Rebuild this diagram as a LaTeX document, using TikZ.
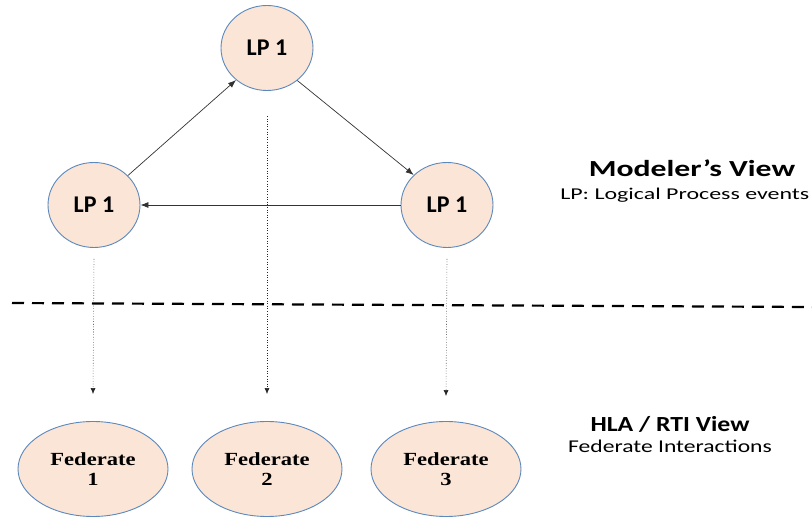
\documentclass[tikz,border=0pt]{standalone}
\usepackage{fontspec}
\setmainfont{Carlito}
\newfontfamily\fedfont{Liberation Serif}[FakeStretch=1.22]
\usetikzlibrary{shapes.geometric,arrows.meta,calc}
\definecolor{peach}{HTML}{FBE5D6}
\definecolor{rim}{HTML}{5B88BD}
\begin{document}
\begin{tikzpicture}[x=1pt,y=-1pt,
  lpnode/.style={ellipse,draw=rim,fill=peach,line width=0.9pt,inner sep=0pt,
    minimum width=92pt,minimum height=85pt,font=\fontsize{24}{27}\selectfont\bfseries},
  fednode/.style={ellipse,draw=rim,fill=peach,line width=0.9pt,inner sep=0pt,
    minimum width=150pt,minimum height=95pt,align=center,
    font=\fedfont\fontsize{18.5}{19.5}\selectfont\bfseries},
  flow/.style={draw=black!80,line width=0.7pt,-{Latex[length=8pt,width=6pt]}},
  map/.style={draw=black!85,line width=0.6pt,dotted,-{Latex[length=6pt,width=5pt]}},
  wide/.style={inner sep=0pt,transform shape,xscale=#1}]
\useasboundingbox (0,0) rectangle (812,518);

% logical processes (modeler's view)
\node[lpnode] (t) at (267,48) {LP 1};
\node[lpnode] (l) at (94,205) {LP 1};
\node[lpnode] (r) at (447,205) {LP 1};

% federates (HLA / RTI view)
\node[fednode] (f1) at (93,469) {Federate\\1};
\node[fednode] (f2) at (267,469) {Federate\\2};
\node[fednode] (f3) at (446,469) {Federate\\3};

% event flow between logical processes
\draw[flow] (l.41) -- (t.226);
\draw[flow] (t.313) -- (r.138);
\draw[flow] (r.west) -- (l.east);

% mapping of processes onto federates
\draw[map] ($(l.south)+(0,11)$) -- ($(f1.north)+(0,-27)$);
\draw[map] ($(t.south)+(0,25)$) -- ($(f2.north)+(0,-27)$);
\draw[map] ($(r.south)+(0,11)$) -- ($(f3.north)+(0,-25)$);

% separator between the two views
\coordinate (sepA) at (12,303);
\coordinate (sepB) at (812,307);
\draw[line width=2.2pt,dash pattern=on 12pt off 8pt] (sepA) -- (sepB);

% view labels
\node[wide=1.38,anchor=base,font=\fontsize{23}{25}\selectfont\bfseries] (mv) at (692,177) {Modeler’s View};
\node[wide=1.45,anchor=base west,font=\fontsize{16.5}{18}\selectfont] (mvs) at (560,200) {LP: Logical Process events};
\node[wide=1.2,anchor=base,font=\fontsize{21.5}{24}\selectfont\bfseries] (hv) at (670,432) {HLA / RTI View};
\node[wide=1.31,anchor=base,font=\fontsize{18}{20}\selectfont] (hvs) at (670,453) {Federate Interactions};
\end{tikzpicture}
\end{document}
